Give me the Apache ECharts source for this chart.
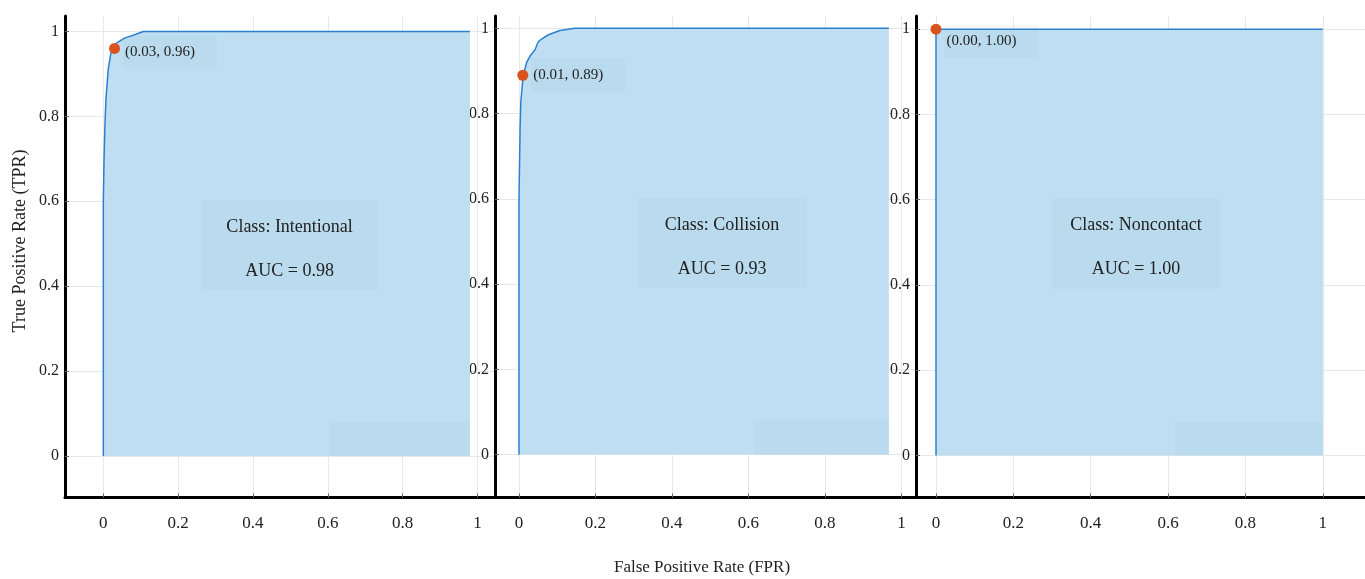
<!DOCTYPE html>
<html><head><meta charset="utf-8">
<script src="https://cdn.jsdelivr.net/npm/echarts@6/dist/echarts.min.js"></script>
<style>html,body{margin:0;padding:0;background:#fff}#c{width:1365px;height:579px}</style>
</head><body><div id="c"></div>
<script>
// ---- data ----
const classNames = ['Intentional', 'Collision', 'Noncontact'];
const aucValues = [0.98, 0.93, 1.00];

const fprIntentional = [0, 0, 0.002, 0.004, 0.007, 0.013, 0.02, 0.027, 0.036, 0.058, 0.076, 0.107, 0.98];
const tprIntentional = [0, 0.60, 0.70, 0.77, 0.84, 0.91, 0.948, 0.96, 0.973, 0.985, 0.99, 1.0, 1.0];

const fprCollision = [0, 0, 0.003, 0.005, 0.011, 0.02, 0.029, 0.042, 0.05, 0.059, 0.077, 0.107, 0.146, 0.967];
const tprCollision = [0, 0.60, 0.77, 0.83, 0.89, 0.92, 0.935, 0.95, 0.968, 0.975, 0.985, 0.995, 1.0, 1.0];

const fprNoncontact = [0, 0, 1];
const tprNoncontact = [0, 1, 1];

const opFpr = [0.03, 0.01, 0.00];
const opTpr = [0.96, 0.89, 1.00];

const tickValues = [0, 0.2, 0.4, 0.6, 0.8, 1];

// ---- layout / style ----
const FONT = '"Liberation Serif", "DejaVu Serif", serif';
const fprs = [fprIntentional, fprCollision, fprNoncontact];
const tprs = [tprIntentional, tprCollision, tprNoncontact];
const gridsCfg = [
  {left: 65, width: 430, top: 16, bottom: 81.5},
  {left: 495, width: 421, top: 16, bottom: 81.5},
  {left: 916, right: 0, top: 16, bottom: 81.5}
];
const xRanges = [[-0.1024, 1.047], [-0.0627, 1.038], [-0.0517, 1.109]];
const yRanges = [[-0.0978, 1.0365], [-0.1004, 1.029], [-0.0985, 1.031]];
const boxX = [[0.264, 0.732], [0.309, 0.753], [0.300, 0.734]];
const boxY = [0.391, 0.603];
const cornerX = [[0.606, 0.978], [0.617, 0.967], [0.618, 1.0]];
const labelOffsets = [[0, 4], [0, 0], [0, 12]];
const FILL = '#c0def1';
const SHADE = 'rgba(100,160,200,0.065)';
const fmt = v => String(+(+v).toFixed(1));

const grid = [], xAxis = [], yAxis = [], series = [];
for (let i = 0; i < 3; i++) {
  grid.push(Object.assign({containLabel: false, outerBoundsMode: 'none'}, gridsCfg[i]));
  xAxis.push({
    gridIndex: i, type: 'value', min: xRanges[i][0], max: xRanges[i][1],
    axisLine: {onZero: false, lineStyle: {color: '#000', width: 3}},
    axisTick: {inside: true, length: 4, customValues: tickValues, lineStyle: {color: '#666'}},
    axisLabel: {customValues: tickValues, margin: 18, fontFamily: FONT, fontSize: 17, color: '#222', formatter: fmt},
    splitLine: {show: true, lineStyle: {color: '#e8e8e8', width: 1}}
  });
  yAxis.push({
    gridIndex: i, type: 'value', min: yRanges[i][0], max: yRanges[i][1],
    axisLine: {onZero: false, lineStyle: {color: '#000', width: 3}},
    axisTick: {inside: true, length: 4, customValues: tickValues, lineStyle: {color: '#666'}},
    axisLabel: {customValues: tickValues, margin: 6, fontFamily: FONT, fontSize: 16, color: '#222', formatter: fmt},
    splitLine: {show: true, lineStyle: {color: '#e8e8e8', width: 1}}
  });
  series.push({
    type: 'line', xAxisIndex: i, yAxisIndex: i, z: 2,
    data: fprs[i].map((x, k) => [x, tprs[i][k]]),
    showSymbol: false, symbol: 'none', silent: true,
    lineStyle: {color: '#2b80d0', width: 1.5},
    areaStyle: {color: FILL, opacity: 1},
    markArea: {
      silent: true, z: 3,
      itemStyle: {color: SHADE},
      label: {show: true, position: 'inside', offset: [0, 4], fontFamily: FONT, fontSize: 18, color: '#222', lineHeight: 22},
      data: [
        [{xAxis: boxX[i][0], yAxis: boxY[0], name: 'Class: ' + classNames[i] + '\n\nAUC = ' + aucValues[i].toFixed(2)},
         {xAxis: boxX[i][1], yAxis: boxY[1]}],
        [{xAxis: cornerX[i][0], yAxis: 0, name: '', label: {show: false}}, {xAxis: cornerX[i][1], yAxis: 0.08}]
      ]
    }
  });
  series.push({
    type: 'scatter', xAxisIndex: i, yAxisIndex: i, z: 5,
    data: [[opFpr[i], opTpr[i]]],
    symbolSize: 11, itemStyle: {color: '#d9531e', opacity: 1},
    label: {
      show: true, position: 'right', distance: 3, offset: labelOffsets[i],
      fontFamily: FONT, fontSize: 15, color: '#222',
      backgroundColor: SHADE, padding: [4, 22, 14, 2],
      formatter: p => '(' + p.value[0].toFixed(2) + ', ' + p.value[1].toFixed(2) + ')'
    }
  });
}

const chart = echarts.init(document.getElementById('c'), null, {renderer: 'canvas'});
chart.setOption({
  animation: false,
  backgroundColor: '#fff',
  grid, xAxis, yAxis, series,
  graphic: [
    {type: 'text', x: 20, y: 241, rotation: Math.PI / 2,
     style: {text: 'True Positive Rate (TPR)', fontFamily: FONT, fontSize: 18, fill: '#222', textAlign: 'center', textVerticalAlign: 'middle'}},
    {type: 'text', x: 702, y: 568,
     style: {text: 'False Positive Rate (FPR)', fontFamily: FONT, fontSize: 17, fill: '#222', textAlign: 'center', textVerticalAlign: 'middle'}}
  ]
});
</script>
</body></html>
